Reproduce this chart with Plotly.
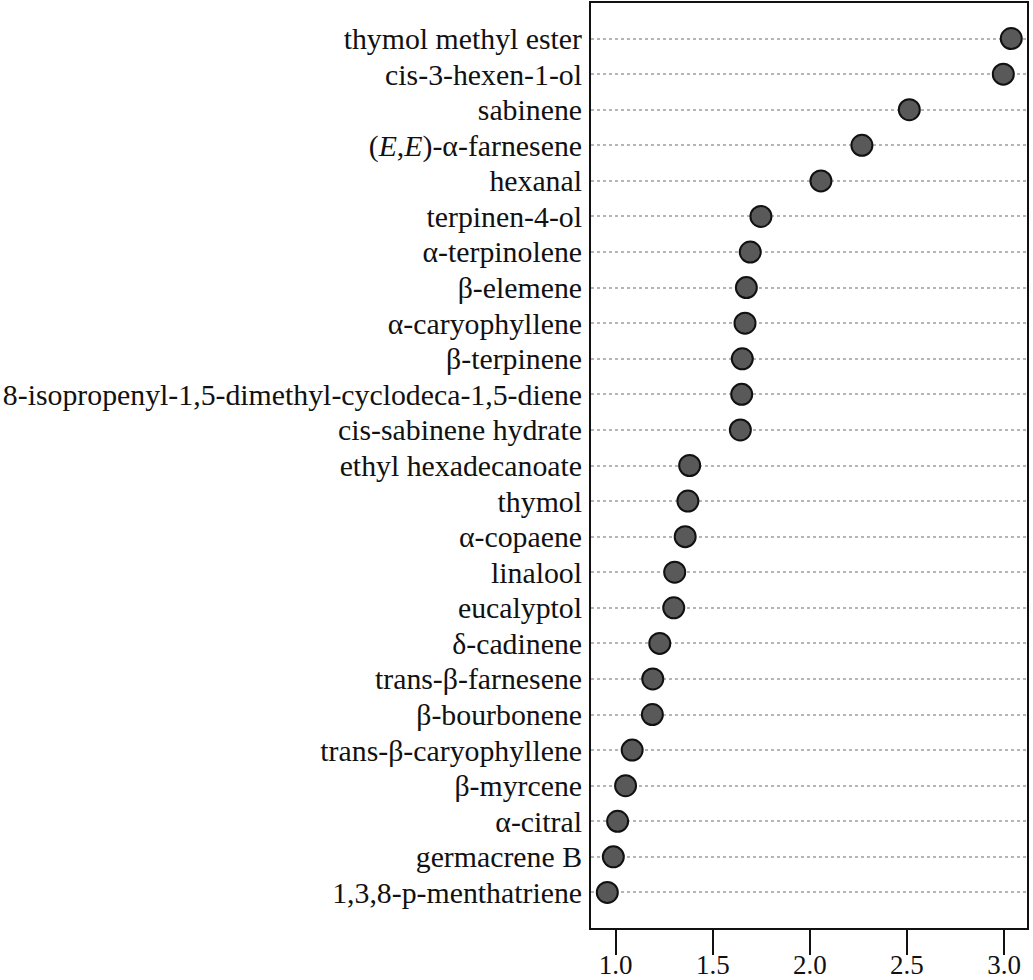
import plotly.graph_objects as go

compounds = [
    "thymol methyl ester", "cis-3-hexen-1-ol", "sabinene", "(<i>E</i>,<i>E</i>)-α-farnesene",
    "hexanal", "terpinen-4-ol", "α-terpinolene", "β-elemene", "α-caryophyllene",
    "β-terpinene", "8-isopropenyl-1,5-dimethyl-cyclodeca-1,5-diene", "cis-sabinene hydrate",
    "ethyl hexadecanoate", "thymol", "α-copaene", "linalool", "eucalyptol", "δ-cadinene",
    "trans-β-farnesene", "β-bourbonene", "trans-β-caryophyllene", "β-myrcene", "α-citral",
    "germacrene B", "1,3,8-p-menthatriene",
]
values = [
    3.037, 2.996, 2.512, 2.268, 2.057, 1.748, 1.693, 1.673, 1.666, 1.652, 1.649, 1.642,
    1.381, 1.372, 1.358, 1.304, 1.299, 1.227, 1.191, 1.189, 1.085, 1.051, 1.010, 0.988, 0.957,
]
x_ticks = [1.0, 1.5, 2.0, 2.5, 3.0]
x_ticklabels = ["1.0", "1.5", "2.0", "2.5", "3.0"]

fig = go.Figure(go.Scatter(
    x=values, y=compounds, mode="markers",
    marker=dict(size=21, color="#595959", line=dict(color="#111111", width=2)),
    hoverinfo="x+y",
))

family = "Liberation Serif, Times New Roman, serif"
yfont = dict(family=family, size=29.8, color="#111111")
xfont = dict(family=family, size=27, color="#111111")
fig.update_layout(
    width=1033, height=980,
    margin=dict(l=591, r=6, t=3, b=52),
    paper_bgcolor="white", plot_bgcolor="white",
    font=yfont, showlegend=False,
)
fig.update_xaxes(
    range=[0.873, 3.118], tickmode="array", tickvals=x_ticks, ticktext=x_ticklabels,
    showgrid=False, zeroline=False, automargin=False,
    showline=True, linecolor="#111111", linewidth=2, mirror=True,
    ticks="outside", ticklen=25, tickwidth=2, tickcolor="#111111",
    tickfont=xfont, ticklabelstandoff=-13,
)
fig.update_yaxes(
    type="category", categoryorder="array", categoryarray=compounds,
    tickmode="array", tickvals=compounds, ticktext=compounds,
    range=[len(compounds), -1], automargin=False,
    showgrid=True, gridcolor="#b5b5b5", griddash="dot", gridwidth=2,
    zeroline=False,
    showline=True, linecolor="#111111", linewidth=2, mirror=True,
    ticks="", ticklabelstandoff=1, tickfont=yfont,
)

fig.write_html(
    "out.html",
    config={"displayModeBar": False},
    post_script="document.body.style.margin='0';document.body.style.overflow='hidden';",
)
